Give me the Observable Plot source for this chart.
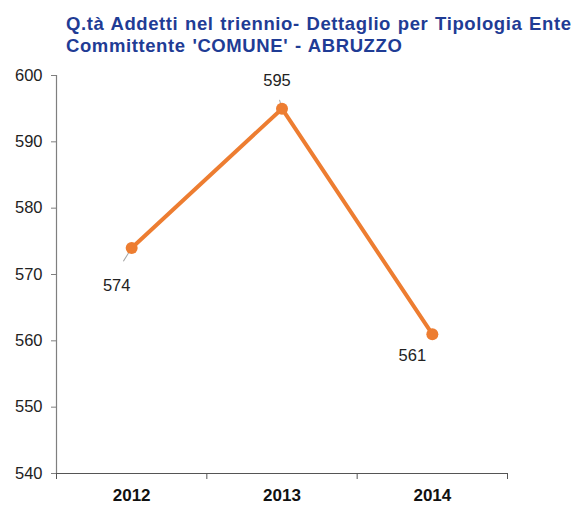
<!DOCTYPE html>
<html>
<head>
<meta charset="utf-8">
<script src="https://cdn.jsdelivr.net/npm/d3@7"></script>
<script src="https://cdn.jsdelivr.net/npm/@observablehq/plot@0.6"></script>
<style>
  html, body { margin: 0; padding: 0; background: #fff; }
  #wrap { width: 584px; height: 505px; position: relative; font-family: "Liberation Sans", Arial, sans-serif; }
  #title { position: absolute; left: 66px; top: 13px; width: 518px; color: #1F3C95; font-weight: bold; font-size: 18.5px; line-height: 22px; letter-spacing: 0.6px; word-spacing: 1px; white-space: nowrap; }
  #chart { position: absolute; left: 0; top: 58px; }
</style>
</head>
<body>
<div id="wrap">
  <div id="title">Q.tà Addetti nel triennio- Dettaglio per Tipologia Ente<br>Committente 'COMUNE' - ABRUZZO</div>
  <div id="chart"></div>
</div>
<script>
const years = [2012, 2013, 2014];
const values = [574, 595, 561];
const yTicks = [540, 550, 560, 570, 580, 590, 600];

const data = years.map((year, i) => ({year, value: values[i]}));
const boundaries = [years[0] - 0.5, ...years.map(y => y + 0.5)];

// label offsets (pixels) and leader lines
const labelOffsets = [{dx: -15, dy: 38}, {dx: -5, dy: -28}, {dx: -20, dy: 22}];
const leaders = [{i: 0, length: 26, rotate: 212}, {i: 1, length: 15, rotate: -16}];

const orange = "#ED7D31";
const axisGray = "#7F7F7F";

const labelMarks = data.map((d, i) => Plot.text([d], {
  x: "year", y: "value", text: d => String(d.value),
  dx: labelOffsets[i].dx, dy: labelOffsets[i].dy,
  fontSize: 16.5, fill: "#222"
}));

const chart = Plot.plot({
  width: 584,
  height: 447,
  marginLeft: 56,
  marginRight: 77,
  marginTop: 17,
  marginBottom: 32,
  style: {fontFamily: "'Liberation Sans', Arial, sans-serif", background: "#fff"},
  x: {type: "linear", domain: [boundaries[0], boundaries[boundaries.length - 1]], axis: null},
  y: {domain: [yTicks[0], yTicks[yTicks.length - 1]], axis: null},
  marks: [
    Plot.axisY({ticks: yTicks, tickSize: 5, tickPadding: 9, fontSize: 16.5, stroke: axisGray, color: "#222", label: null, tickFormat: d => String(d)}),
    Plot.axisX({ticks: boundaries, tickSize: 6, stroke: "#555", label: null, tickFormat: () => ""}),
    Plot.axisX({ticks: years, tickSize: 0, tickPadding: 15, fontSize: 17, fontWeight: "bold", fill: "#111", label: null, tickFormat: d => String(d)}),
    Plot.ruleX([boundaries[0]], {stroke: axisGray, strokeWidth: 1.2}),
    Plot.ruleY([yTicks[0]], {stroke: "#555", strokeWidth: 1.2}),
    Plot.line(data, {x: "year", y: "value", stroke: orange, strokeWidth: 4}),
    Plot.vector(leaders.map(l => ({...data[l.i], length: l.length, rotate: l.rotate})), {
      x: "year", y: "value", length: "length", rotate: "rotate", anchor: "start", r: 0,
      stroke: "#A6A6A6", strokeWidth: 1
    }),
    Plot.dot(data, {x: "year", y: "value", r: 6, fill: orange}),
    ...labelMarks
  ]
});
document.getElementById("chart").appendChild(chart);
</script>
</body>
</html>
